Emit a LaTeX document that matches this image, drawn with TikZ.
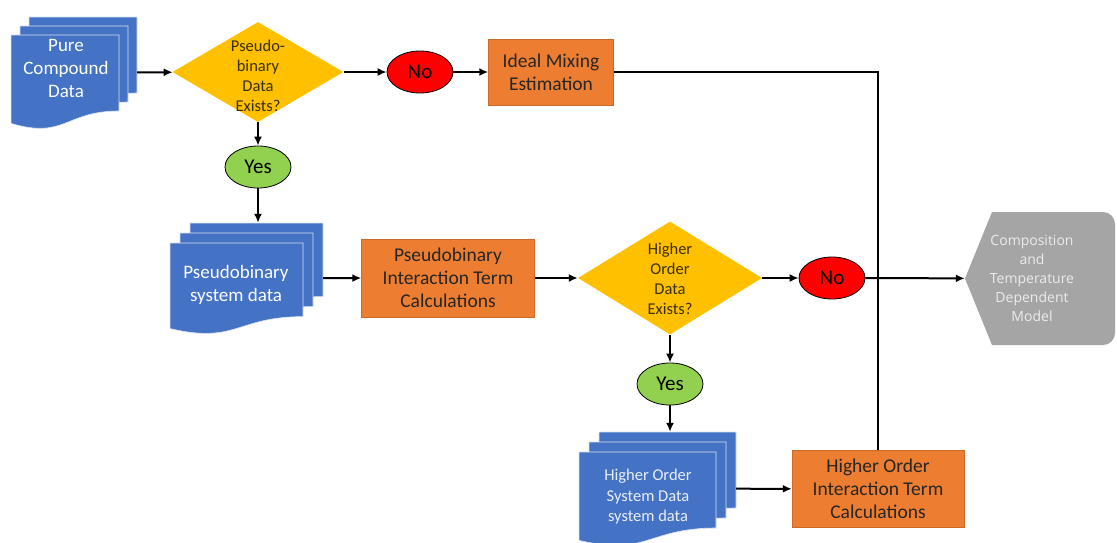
\documentclass[tikz,border=0pt]{standalone}
\usepackage{fontspec}
\setmainfont{Carlito}
\newfontfamily\modelfont{Open Sans}
\usetikzlibrary{shapes.geometric,arrows.meta}
\definecolor{docblue}{HTML}{4472C4}
\definecolor{boxorange}{HTML}{ED7D31}
\definecolor{qgold}{HTML}{FFC000}
\definecolor{qtextcol}{HTML}{3A2E00}
\definecolor{nored}{HTML}{FF0000}
\definecolor{yesgreen}{HTML}{92D050}
\definecolor{modelgray}{HTML}{A5A5A5}
\tikzset{>={Latex[length=9pt,width=8pt]}}
\tikzset{
  flow/.style = {->, line width=2pt},
  process/.style = {rectangle, fill=boxorange, draw=boxorange!85!black, line width=0.4pt,
    text=black!85, align=center, inner sep=0pt, font=\fontsize{19.5}{23}\selectfont},
  decision/.style = {diamond, fill=qgold, inner sep=0pt},
  qtext/.style = {align=center, text=qtextcol, font=\fontsize{16.5}{20}\selectfont},
  answer/.style = {ellipse, draw=black, line width=0.8pt, inner sep=0pt,
    minimum width=66pt, minimum height=42pt, font=\fontsize{21}{24}\selectfont},
  docsheet/.style = {fill=docblue, draw=white!80!docblue, line width=0.6pt},
  docbox/.style = {rectangle, draw=none, inner sep=0pt},
  doctext/.style = {align=center, text=white, font=\fontsize{19}{23}\selectfont}
}
% stacked documents: name, front left, front top, width, height, step
\newcommand{\docstack}[6]{%
  \foreach \d in {2,1,0}{
    \begin{scope}[shift={({#2+#6*\d},{#3-#6*\d})}]
      \draw[docsheet] (0,0) -- (#4,0) -- (#4,{0.8*#5})
        .. controls ({0.5*#4},{0.8*#5}) and ({0.5*#4},{1.1*#5}) .. (0,{0.93*#5}) -- cycle;
    \end{scope}
  }
  \node[docbox, minimum width={#4+2*#6}, minimum height={0.98*#5+2*#6}]
    (#1) at ({#2+(#4+2*#6)/2},{#3-2*#6+(0.98*#5+2*#6)/2}) {};
}

\begin{document}
\begin{tikzpicture}[x=1pt,y=-1pt]
  \clip (0,0) rectangle (1117,542);
  \fill[white] (0,0) rectangle (1117,542);

  % top row
  \docstack{pure}{11}{35}{108}{95}{9}
  \node[doctext] (puretxt) at (66,68) {Pure\\Compound\\Data};
  \node[decision, minimum width=171pt, minimum height=100pt] (pbq) at (258,72) {};
  \node[qtext] (pbqtxt) at (258,76) {Pseudo-\\binary\\Data\\Exists?};
  \node[answer, fill=nored] (no1) at (420,72) {No};
  \node[process, minimum width=125pt, minimum height=66pt] (ideal) at (551,72) {Ideal Mixing\\Estimation};
  \node[answer, fill=yesgreen] (yes1) at (258,167) {Yes};

  % middle row
  \docstack{pseudo}{170}{243}{133}{92}{10}
  \node[doctext] (pseudotxt) at (236,285) {Pseudobinary\\system data};
  \node[process, minimum width=173pt, minimum height=78pt] (pbit) at (448,278) {Pseudobinary\\Interaction Term\\Calculations};
  \node[decision, minimum width=184pt, minimum height=113pt] (hoq) at (670,278) {};
  \node[qtext] (hoqtxt) at (670,279) {Higher\\Order\\Data\\Exists?};
  \node[answer, fill=nored] (no2) at (832,278) {No};
  \fill[modelgray] (965,278.5) -- (992,212) [rounded corners=12pt] -- (1115,212)
    -- (1115,345) [sharp corners] -- (992,345) -- cycle;
  \node[docbox, minimum width=134pt, minimum height=133pt, align=center, text=white!92!black,
    font=\modelfont\fontsize{14}{19}\selectfont] (model) at (1032,278.5)
    {Composition\\and\\Temperature\\Dependent\\Model};

  % bottom row
  \node[answer, fill=yesgreen] (yes2) at (670,384) {Yes};
  \docstack{hostack}{579}{452}{137}{95}{10}
  \node[doctext, text=white!88!docblue, font=\fontsize{16.5}{20.5}\selectfont] (hotxt) at (648,497)
    {Higher Order\\System Data\\system data};
  \node[process, minimum width=172pt, minimum height=77pt] (hoit) at (878,489) {Higher Order\\Interaction Term\\Calculations};

  % connectors
  \draw[flow] (pure) -- (pbq);
  \draw[flow] (pbq) -- (no1);
  \draw[flow] (no1) -- (ideal);
  \draw[flow] (pbq) -- (yes1);
  \draw[flow] (yes1) -- (yes1 |- pseudo.north);
  \draw[flow] (pseudo) -- (pbit);
  \draw[flow] (pbit) -- (hoq);
  \draw[flow] (hoq) -- (no2);
  \draw[flow] (no2) -- (model);
  \draw[flow] (hoq) -- (yes2);
  \draw[flow] (yes2) -- (yes2 |- hostack.north);
  \draw[flow] (hostack) -- (hoit);
  \draw[line width=2pt] (ideal) -| (hoit);
\end{tikzpicture}
\end{document}
